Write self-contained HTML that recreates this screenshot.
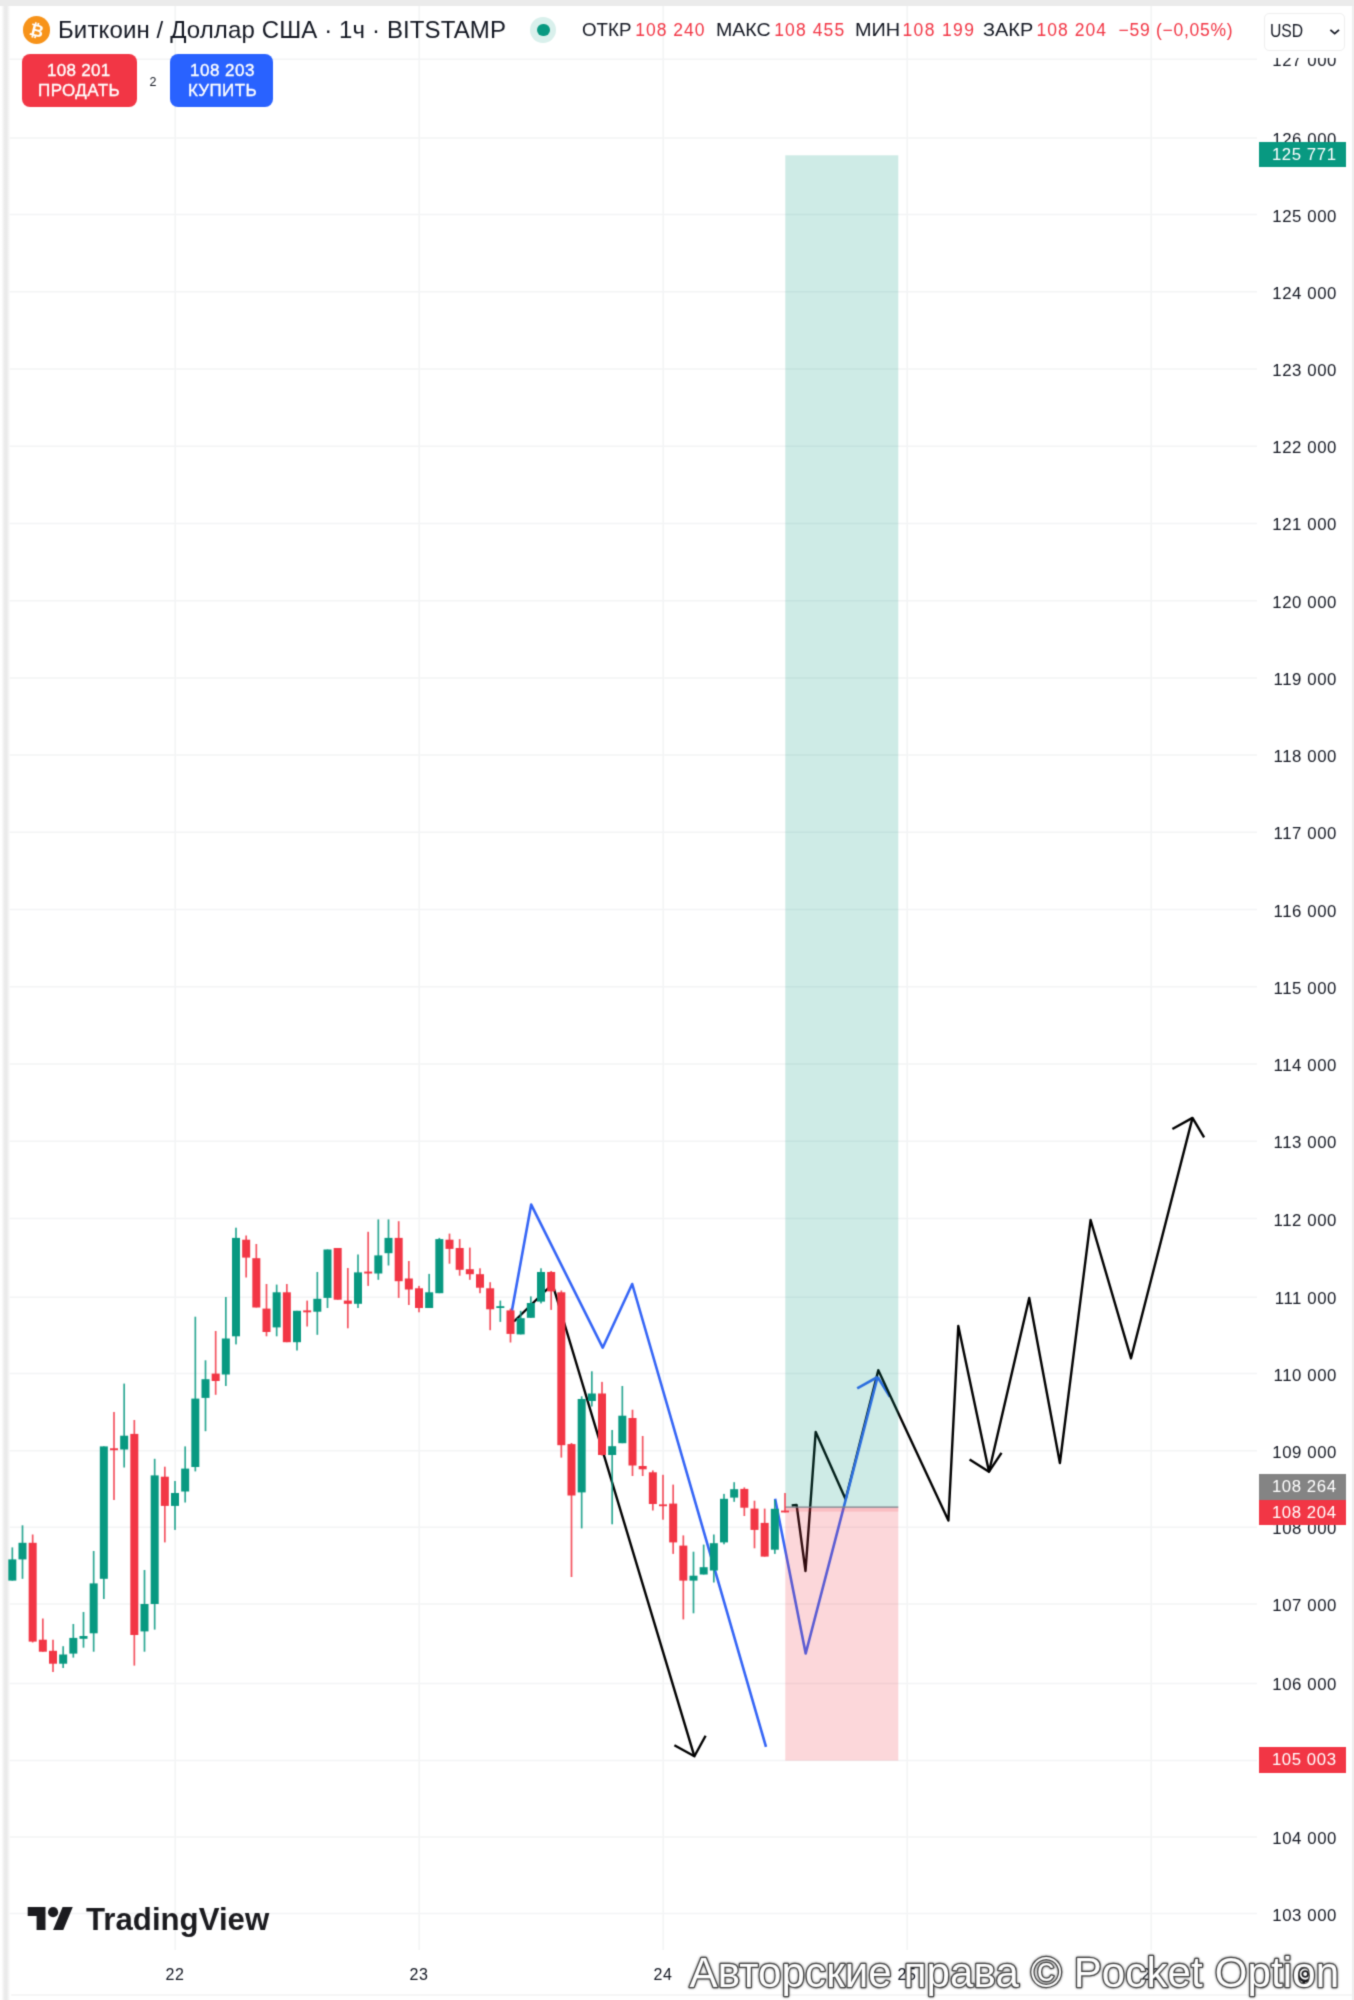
<!DOCTYPE html>
<html lang="ru">
<head>
<meta charset="utf-8">
<title>Биткоин / Доллар США — график</title>
<style>
html,body{margin:0;padding:0;background:#fff;}
body{width:1354px;height:2000px;position:relative;overflow:hidden;font-family:"Liberation Sans",sans-serif;color:#131722;}
.abs{position:absolute;}
.topband{left:-10px;top:-10px;width:1374px;height:16px;background:#ebebeb;}
.lstrip{left:0;top:5.5px;width:11px;height:2005px;background:linear-gradient(90deg,#fff 0,#fff 1.4px,#ebebeb 4.6px,#ebebeb 7px,#fff 10.2px,#fff 11px);}
.rstrip{left:1351.5px;top:5.5px;width:12.7px;height:2005px;background:#eeeeee;}
.panel{left:8px;top:5.5px;width:1343.3px;height:1989.5px;background:#fff;border-radius:5px 5px 0 0;}
.botline{left:8px;top:1993.6px;width:1346px;height:2px;background:#f6f6f6;}
.t{position:absolute;white-space:nowrap;line-height:1;}
.btn{position:absolute;top:54.3px;height:52.7px;border-radius:8px;}
.sell{left:21.5px;width:115.9px;background:#F23645;}
.buy{left:170.2px;width:102.8px;background:#2962FF;}
.usdbox{left:1263.6px;top:12.8px;width:79.6px;height:36.6px;border:1.6px solid #efefef;border-radius:5px;background:#fff;}
.coin{left:22.9px;top:16px;width:27.6px;height:27.6px;border-radius:50%;background:#F7931A;}
.halo{left:530.4px;top:17.1px;width:25.8px;height:25.8px;border-radius:50%;background:#d9f0ec;}
.dot{left:537px;top:23.7px;width:12.6px;height:12.6px;border-radius:50%;background:#089981;}
.plab{position:absolute;right:14px;white-space:nowrap;line-height:1;font-size:16.8px;letter-spacing:0.58px;color:#131722;}
.pbox{position:absolute;left:1259px;width:87px;height:25.8px;}
.pbox span{position:absolute;right:9.4px;top:5.1px;line-height:1;font-size:16.8px;letter-spacing:0.58px;color:#fff;white-space:nowrap;}
.tlab{position:absolute;top:1967.1px;width:40px;text-align:center;line-height:1;font-size:16px;letter-spacing:0.5px;color:#131722;}
svg{position:absolute;left:0;top:0;}
#root{position:absolute;left:0;top:0;width:1354px;height:2000px;overflow:hidden;background:#fff;filter:url(#soft);}

</style>
</head>
<body>
<svg width="0" height="0" style="position:absolute"><defs><filter id="soft" x="0" y="0" width="100%" height="100%" color-interpolation-filters="sRGB"><feConvolveMatrix order="3" kernelMatrix="0.0256 0.1088 0.0256 0.1088 0.4624 0.1088 0.0256 0.1088 0.0256" edgeMode="duplicate" preserveAlpha="true"/></filter></defs></svg>
<div id="root">
<div class="abs panel"></div><div class="abs botline"></div>
<div class="abs lstrip"></div><div class="abs rstrip"></div><div class="abs topband"></div>
<svg id="chart" width="1354" height="2000" viewBox="0 0 1354 2000">
<g stroke="#f3f4f5" stroke-width="1.5">
<line x1="9.5" x2="1257" y1="1913.6" y2="1913.6"/>
<line x1="9.5" x2="1257" y1="1837.1" y2="1837.1"/>
<line x1="9.5" x2="1257" y1="1760.4" y2="1760.4"/>
<line x1="9.5" x2="1257" y1="1683.4" y2="1683.4"/>
<line x1="9.5" x2="1257" y1="1604.0" y2="1604.0"/>
<line x1="9.5" x2="1257" y1="1527.2" y2="1527.2"/>
<line x1="9.5" x2="1257" y1="1450.8" y2="1450.8"/>
<line x1="9.5" x2="1257" y1="1373.6" y2="1373.6"/>
<line x1="9.5" x2="1257" y1="1297.2" y2="1297.2"/>
<line x1="9.5" x2="1257" y1="1218.5" y2="1218.5"/>
<line x1="9.5" x2="1257" y1="1141.3" y2="1141.3"/>
<line x1="9.5" x2="1257" y1="1064.0" y2="1064.0"/>
<line x1="9.5" x2="1257" y1="986.8" y2="986.8"/>
<line x1="9.5" x2="1257" y1="909.6" y2="909.6"/>
<line x1="9.5" x2="1257" y1="832.3" y2="832.3"/>
<line x1="9.5" x2="1257" y1="755.1" y2="755.1"/>
<line x1="9.5" x2="1257" y1="677.9" y2="677.9"/>
<line x1="9.5" x2="1257" y1="600.7" y2="600.7"/>
<line x1="9.5" x2="1257" y1="523.4" y2="523.4"/>
<line x1="9.5" x2="1257" y1="446.2" y2="446.2"/>
<line x1="9.5" x2="1257" y1="369.0" y2="369.0"/>
<line x1="9.5" x2="1257" y1="291.7" y2="291.7"/>
<line x1="9.5" x2="1257" y1="214.5" y2="214.5"/>
<line x1="9.5" x2="1257" y1="138.1" y2="138.1"/>
<line x1="9.5" x2="1257" y1="59.2" y2="59.2"/>
<line x1="175.2" x2="175.2" y1="6" y2="1950"/>
<line x1="419.2" x2="419.2" y1="6" y2="1950"/>
<line x1="663.2" x2="663.2" y1="6" y2="1950"/>
<line x1="907.2" x2="907.2" y1="6" y2="1950"/>
<line x1="1151.2" x2="1151.2" y1="6" y2="1950"/>
</g>
<g fill="none" stroke-linejoin="round" stroke-linecap="butt">
<path d="M514,1321.5 L552.5,1284 L694.4,1756.3" stroke="#000" stroke-width="2.4"/>
<path d="M674.4,1745.2 L694.4,1756.3 L705.6,1735.7" stroke="#000" stroke-width="2.4"/>
<path d="M877.6,1377 L889.9,1396.9" stroke="#3565F6" stroke-width="2.6"/>
<path d="M791.7,1505.5 L796.6,1505 L805.5,1571 L815.7,1432 L845.6,1499.2 L878.3,1370.2 L948.4,1520.6 L958.3,1325.9 L989,1471.7 L1029.2,1298 L1059.9,1463 L1090.6,1220 L1131,1358.3 L1192.5,1117.9" stroke="#000" stroke-width="2.4" stroke-miterlimit="10"/>
<path d="M969.6,1459.4 L989,1471.7 L1001.5,1452.8" stroke="#000" stroke-width="2.4"/>
<path d="M1172.4,1129 L1192.5,1117.9 L1204.1,1137.3" stroke="#000" stroke-width="2.4"/>
<path d="M511.9,1310.8 L531.2,1204.6 L602.7,1347.7 L632.2,1284 L766,1746.8" stroke="#3565F6" stroke-width="2.6" stroke-miterlimit="10"/>
<path d="M775.1,1498.8 L805.7,1653.5 L877.6,1377" stroke="#3565F6" stroke-width="2.6" stroke-miterlimit="10"/>
<path d="M857.2,1388.4 L877.6,1377" stroke="#3565F6" stroke-width="2.6"/>
</g>
<rect x="785.3" y="155.3" width="113" height="1352" fill="#089981" fill-opacity="0.2"/>
<rect x="785.3" y="1507.3" width="113" height="253.3" fill="#F23645" fill-opacity="0.2"/>
<rect x="785.3" y="1507.8" width="113" height="3.8" fill="#F23645" fill-opacity="0.16"/>
<line x1="785.3" x2="898.3" y1="1507.2" y2="1507.2" stroke="#7b7f88" stroke-width="1.3"/>
<g id="candles">
<rect x="11.48" y="1547.4" width="1.7" height="33.2" fill="#089981" fill-opacity="0.85"/>
<rect x="8.33" y="1559.4" width="8.0" height="21.2" fill="#089981"/>
<rect x="21.65" y="1525.3" width="1.7" height="53.5" fill="#089981" fill-opacity="0.85"/>
<rect x="18.50" y="1542.8" width="8.0" height="16.6" fill="#089981"/>
<rect x="31.82" y="1534.5" width="1.7" height="108.0" fill="#F23645" fill-opacity="0.85"/>
<rect x="28.67" y="1542.8" width="8.0" height="98.8" fill="#F23645"/>
<rect x="41.98" y="1618.5" width="1.7" height="33.2" fill="#F23645" fill-opacity="0.85"/>
<rect x="38.83" y="1639.7" width="8.0" height="12.0" fill="#F23645"/>
<rect x="52.15" y="1639.7" width="1.7" height="32.3" fill="#F23645" fill-opacity="0.85"/>
<rect x="49.00" y="1650.8" width="8.0" height="12.9" fill="#F23645"/>
<rect x="62.32" y="1646.2" width="1.7" height="21.8" fill="#089981" fill-opacity="0.85"/>
<rect x="59.17" y="1654.5" width="8.0" height="9.2" fill="#089981"/>
<rect x="72.48" y="1624.0" width="1.7" height="33.6" fill="#089981" fill-opacity="0.85"/>
<rect x="69.33" y="1637.9" width="8.0" height="15.7" fill="#089981"/>
<rect x="82.65" y="1612.0" width="1.7" height="35.7" fill="#089981" fill-opacity="0.85"/>
<rect x="79.50" y="1636.0" width="8.0" height="2.8" fill="#089981"/>
<rect x="92.82" y="1551.0" width="1.7" height="100.7" fill="#089981" fill-opacity="0.85"/>
<rect x="89.67" y="1583.4" width="8.0" height="49.9" fill="#089981"/>
<rect x="102.98" y="1446.4" width="1.7" height="152.6" fill="#089981" fill-opacity="0.85"/>
<rect x="99.83" y="1446.4" width="8.0" height="132.4" fill="#089981"/>
<rect x="113.15" y="1412.0" width="1.7" height="88.0" fill="#F23645" fill-opacity="0.85"/>
<rect x="110.00" y="1448.3" width="8.0" height="1.9" fill="#F23645"/>
<rect x="123.32" y="1383.6" width="1.7" height="83.9" fill="#089981" fill-opacity="0.85"/>
<rect x="120.17" y="1435.7" width="8.0" height="13.8" fill="#089981"/>
<rect x="133.48" y="1420.0" width="1.7" height="245.6" fill="#F23645" fill-opacity="0.85"/>
<rect x="130.33" y="1433.9" width="8.0" height="201.1" fill="#F23645"/>
<rect x="143.65" y="1570.0" width="1.7" height="81.7" fill="#089981" fill-opacity="0.85"/>
<rect x="140.50" y="1604.0" width="8.0" height="27.4" fill="#089981"/>
<rect x="153.82" y="1458.8" width="1.7" height="170.8" fill="#089981" fill-opacity="0.85"/>
<rect x="150.67" y="1475.4" width="8.0" height="128.6" fill="#089981"/>
<rect x="163.98" y="1466.7" width="1.7" height="75.7" fill="#F23645" fill-opacity="0.85"/>
<rect x="160.83" y="1476.7" width="8.0" height="29.2" fill="#F23645"/>
<rect x="174.15" y="1481.0" width="1.7" height="48.9" fill="#089981" fill-opacity="0.85"/>
<rect x="171.00" y="1493.0" width="8.0" height="12.9" fill="#089981"/>
<rect x="184.32" y="1446.4" width="1.7" height="56.1" fill="#089981" fill-opacity="0.85"/>
<rect x="181.17" y="1468.6" width="8.0" height="22.9" fill="#089981"/>
<rect x="194.48" y="1316.7" width="1.7" height="154.7" fill="#089981" fill-opacity="0.85"/>
<rect x="191.33" y="1398.6" width="8.0" height="68.4" fill="#089981"/>
<rect x="204.65" y="1360.3" width="1.7" height="70.9" fill="#089981" fill-opacity="0.85"/>
<rect x="201.50" y="1379.2" width="8.0" height="18.7" fill="#089981"/>
<rect x="214.82" y="1331.0" width="1.7" height="63.8" fill="#F23645" fill-opacity="0.85"/>
<rect x="211.67" y="1373.6" width="8.0" height="7.4" fill="#F23645"/>
<rect x="224.98" y="1297.0" width="1.7" height="89.0" fill="#089981" fill-opacity="0.85"/>
<rect x="221.83" y="1338.5" width="8.0" height="36.0" fill="#089981"/>
<rect x="235.15" y="1227.7" width="1.7" height="116.7" fill="#089981" fill-opacity="0.85"/>
<rect x="232.00" y="1237.9" width="8.0" height="98.4" fill="#089981"/>
<rect x="245.32" y="1235.5" width="1.7" height="42.0" fill="#F23645" fill-opacity="0.85"/>
<rect x="242.17" y="1239.7" width="8.0" height="17.9" fill="#F23645"/>
<rect x="255.48" y="1244.0" width="1.7" height="63.5" fill="#F23645" fill-opacity="0.85"/>
<rect x="252.33" y="1258.2" width="8.0" height="49.3" fill="#F23645"/>
<rect x="265.65" y="1284.0" width="1.7" height="52.3" fill="#F23645" fill-opacity="0.85"/>
<rect x="262.50" y="1308.6" width="8.0" height="23.4" fill="#F23645"/>
<rect x="275.82" y="1284.6" width="1.7" height="51.7" fill="#089981" fill-opacity="0.85"/>
<rect x="272.67" y="1292.3" width="8.0" height="35.1" fill="#089981"/>
<rect x="285.98" y="1284.0" width="1.7" height="58.2" fill="#F23645" fill-opacity="0.85"/>
<rect x="282.83" y="1292.3" width="8.0" height="49.9" fill="#F23645"/>
<rect x="296.15" y="1310.8" width="1.7" height="39.7" fill="#089981" fill-opacity="0.85"/>
<rect x="293.00" y="1310.8" width="8.0" height="31.4" fill="#089981"/>
<rect x="306.32" y="1300.6" width="1.7" height="25.9" fill="#F23645" fill-opacity="0.85"/>
<rect x="303.17" y="1310.4" width="8.0" height="1.9" fill="#F23645"/>
<rect x="316.48" y="1272.0" width="1.7" height="62.8" fill="#089981" fill-opacity="0.85"/>
<rect x="313.33" y="1298.8" width="8.0" height="12.9" fill="#089981"/>
<rect x="326.65" y="1249.5" width="1.7" height="58.5" fill="#089981" fill-opacity="0.85"/>
<rect x="323.50" y="1249.5" width="8.0" height="48.4" fill="#089981"/>
<rect x="336.82" y="1248.0" width="1.7" height="51.7" fill="#F23645" fill-opacity="0.85"/>
<rect x="333.67" y="1248.0" width="8.0" height="51.7" fill="#F23645"/>
<rect x="346.98" y="1268.0" width="1.7" height="60.3" fill="#F23645" fill-opacity="0.85"/>
<rect x="343.83" y="1300.6" width="8.0" height="3.2" fill="#F23645"/>
<rect x="357.15" y="1254.5" width="1.7" height="53.5" fill="#089981" fill-opacity="0.85"/>
<rect x="354.00" y="1272.4" width="8.0" height="31.4" fill="#089981"/>
<rect x="367.32" y="1231.8" width="1.7" height="54.1" fill="#F23645" fill-opacity="0.85"/>
<rect x="364.17" y="1271.6" width="8.0" height="1.9" fill="#F23645"/>
<rect x="377.48" y="1219.4" width="1.7" height="60.4" fill="#089981" fill-opacity="0.85"/>
<rect x="374.33" y="1255.4" width="8.0" height="18.1" fill="#089981"/>
<rect x="387.65" y="1219.4" width="1.7" height="46.1" fill="#089981" fill-opacity="0.85"/>
<rect x="384.50" y="1237.9" width="8.0" height="15.3" fill="#089981"/>
<rect x="397.82" y="1221.2" width="1.7" height="76.7" fill="#F23645" fill-opacity="0.85"/>
<rect x="394.67" y="1237.9" width="8.0" height="43.3" fill="#F23645"/>
<rect x="407.98" y="1261.0" width="1.7" height="44.0" fill="#F23645" fill-opacity="0.85"/>
<rect x="404.83" y="1278.5" width="8.0" height="11.0" fill="#F23645"/>
<rect x="418.15" y="1285.9" width="1.7" height="26.4" fill="#F23645" fill-opacity="0.85"/>
<rect x="415.00" y="1288.3" width="8.0" height="19.7" fill="#F23645"/>
<rect x="428.32" y="1273.9" width="1.7" height="34.1" fill="#089981" fill-opacity="0.85"/>
<rect x="425.17" y="1292.3" width="8.0" height="15.7" fill="#089981"/>
<rect x="438.48" y="1237.9" width="1.7" height="55.3" fill="#089981" fill-opacity="0.85"/>
<rect x="435.33" y="1239.1" width="8.0" height="54.1" fill="#089981"/>
<rect x="448.65" y="1233.6" width="1.7" height="30.1" fill="#F23645" fill-opacity="0.85"/>
<rect x="445.50" y="1239.7" width="8.0" height="9.2" fill="#F23645"/>
<rect x="458.82" y="1239.1" width="1.7" height="36.6" fill="#F23645" fill-opacity="0.85"/>
<rect x="455.67" y="1248.0" width="8.0" height="21.8" fill="#F23645"/>
<rect x="468.98" y="1247.6" width="1.7" height="32.2" fill="#F23645" fill-opacity="0.85"/>
<rect x="465.83" y="1269.2" width="8.0" height="5.0" fill="#F23645"/>
<rect x="479.15" y="1268.3" width="1.7" height="24.9" fill="#F23645" fill-opacity="0.85"/>
<rect x="476.00" y="1274.2" width="8.0" height="13.5" fill="#F23645"/>
<rect x="489.32" y="1282.2" width="1.7" height="48.0" fill="#F23645" fill-opacity="0.85"/>
<rect x="486.17" y="1288.3" width="8.0" height="21.0" fill="#F23645"/>
<rect x="499.48" y="1300.6" width="1.7" height="21.3" fill="#089981" fill-opacity="0.85"/>
<rect x="496.33" y="1306.2" width="8.0" height="1.8" fill="#089981"/>
<rect x="509.65" y="1308.6" width="1.7" height="33.9" fill="#F23645" fill-opacity="0.85"/>
<rect x="506.50" y="1310.4" width="8.0" height="23.5" fill="#F23645"/>
<rect x="519.82" y="1310.8" width="1.7" height="23.6" fill="#089981" fill-opacity="0.85"/>
<rect x="516.67" y="1318.2" width="8.0" height="16.2" fill="#089981"/>
<rect x="529.98" y="1296.4" width="1.7" height="21.4" fill="#089981" fill-opacity="0.85"/>
<rect x="526.83" y="1303.0" width="8.0" height="14.8" fill="#089981"/>
<rect x="540.15" y="1268.3" width="1.7" height="35.1" fill="#089981" fill-opacity="0.85"/>
<rect x="537.00" y="1272.0" width="8.0" height="29.6" fill="#089981"/>
<rect x="550.32" y="1271.0" width="1.7" height="38.9" fill="#F23645" fill-opacity="0.85"/>
<rect x="547.17" y="1272.0" width="8.0" height="19.4" fill="#F23645"/>
<rect x="560.48" y="1290.5" width="1.7" height="167.1" fill="#F23645" fill-opacity="0.85"/>
<rect x="557.33" y="1292.3" width="8.0" height="152.9" fill="#F23645"/>
<rect x="570.65" y="1443.0" width="1.7" height="134.0" fill="#F23645" fill-opacity="0.85"/>
<rect x="567.50" y="1444.1" width="8.0" height="51.4" fill="#F23645"/>
<rect x="580.82" y="1396.3" width="1.7" height="132.1" fill="#089981" fill-opacity="0.85"/>
<rect x="577.67" y="1399.0" width="8.0" height="93.4" fill="#089981"/>
<rect x="590.98" y="1371.3" width="1.7" height="35.2" fill="#089981" fill-opacity="0.85"/>
<rect x="587.83" y="1393.5" width="8.0" height="7.5" fill="#089981"/>
<rect x="601.15" y="1381.9" width="1.7" height="73.6" fill="#F23645" fill-opacity="0.85"/>
<rect x="598.00" y="1393.5" width="8.0" height="61.5" fill="#F23645"/>
<rect x="611.32" y="1430.0" width="1.7" height="94.3" fill="#089981" fill-opacity="0.85"/>
<rect x="608.17" y="1446.2" width="8.0" height="8.8" fill="#089981"/>
<rect x="621.48" y="1386.0" width="1.7" height="57.2" fill="#089981" fill-opacity="0.85"/>
<rect x="618.33" y="1415.7" width="8.0" height="27.5" fill="#089981"/>
<rect x="631.65" y="1409.7" width="1.7" height="66.3" fill="#F23645" fill-opacity="0.85"/>
<rect x="628.50" y="1418.0" width="8.0" height="47.5" fill="#F23645"/>
<rect x="641.82" y="1436.0" width="1.7" height="40.0" fill="#F23645" fill-opacity="0.85"/>
<rect x="638.67" y="1466.0" width="8.0" height="3.3" fill="#F23645"/>
<rect x="651.98" y="1470.4" width="1.7" height="40.1" fill="#F23645" fill-opacity="0.85"/>
<rect x="648.83" y="1472.3" width="8.0" height="31.7" fill="#F23645"/>
<rect x="662.15" y="1474.8" width="1.7" height="44.9" fill="#F23645" fill-opacity="0.85"/>
<rect x="659.00" y="1504.4" width="8.0" height="1.8" fill="#F23645"/>
<rect x="672.32" y="1484.6" width="1.7" height="69.3" fill="#F23645" fill-opacity="0.85"/>
<rect x="669.17" y="1503.6" width="8.0" height="38.8" fill="#F23645"/>
<rect x="682.48" y="1535.4" width="1.7" height="84.0" fill="#F23645" fill-opacity="0.85"/>
<rect x="679.33" y="1545.6" width="8.0" height="35.0" fill="#F23645"/>
<rect x="692.65" y="1551.7" width="1.7" height="61.6" fill="#089981" fill-opacity="0.85"/>
<rect x="689.50" y="1575.7" width="8.0" height="4.9" fill="#089981"/>
<rect x="702.82" y="1544.6" width="1.7" height="29.9" fill="#089981" fill-opacity="0.85"/>
<rect x="699.67" y="1567.2" width="8.0" height="7.3" fill="#089981"/>
<rect x="712.98" y="1534.5" width="1.7" height="48.0" fill="#089981" fill-opacity="0.85"/>
<rect x="709.83" y="1543.2" width="8.0" height="27.3" fill="#089981"/>
<rect x="723.15" y="1493.9" width="1.7" height="50.4" fill="#089981" fill-opacity="0.85"/>
<rect x="720.00" y="1498.8" width="8.0" height="43.6" fill="#089981"/>
<rect x="733.32" y="1482.2" width="1.7" height="19.6" fill="#089981" fill-opacity="0.85"/>
<rect x="730.17" y="1489.2" width="8.0" height="8.4" fill="#089981"/>
<rect x="743.48" y="1487.4" width="1.7" height="28.6" fill="#F23645" fill-opacity="0.85"/>
<rect x="740.33" y="1488.9" width="8.0" height="18.8" fill="#F23645"/>
<rect x="753.65" y="1500.7" width="1.7" height="47.6" fill="#F23645" fill-opacity="0.85"/>
<rect x="750.50" y="1508.6" width="8.0" height="21.3" fill="#F23645"/>
<rect x="763.82" y="1508.6" width="1.7" height="48.0" fill="#F23645" fill-opacity="0.85"/>
<rect x="760.67" y="1522.9" width="8.0" height="33.7" fill="#F23645"/>
<rect x="773.98" y="1500.0" width="1.7" height="53.9" fill="#089981" fill-opacity="0.85"/>
<rect x="770.83" y="1508.8" width="8.0" height="40.9" fill="#089981"/>
<rect x="784.15" y="1493.0" width="1.7" height="19.4" fill="#F23645" fill-opacity="0.85"/>
<rect x="781.00" y="1510.6" width="8.0" height="1.8" fill="#F23645"/>
</g>
<g transform="translate(27.7,1902) scale(1.27)" fill="#1b1b1f"><path d="M14 22H7V11H0V4h14v18zM28 22h-8l7.5-18h8L28 22z"/><circle cx="20" cy="8" r="4"/></g>
<g transform="translate(1305.2,1974)" fill="none" stroke="#1b1b1f"><circle r="2.9" stroke-width="1.8"/><circle r="7" stroke-width="2.6"/><circle r="8.6" stroke-dasharray="2.7 4.05" stroke-width="2.2"/></g>
</svg>
<div class="abs" style="left:1257px;top:58px;width:94px;height:1900px;overflow:hidden;">
<div class="plab" style="top:1849.6px">103 000</div>
<div class="plab" style="top:1773.1px">104 000</div>
<div class="plab" style="top:1696.4px">105 000</div>
<div class="plab" style="top:1619.4px">106 000</div>
<div class="plab" style="top:1540.0px">107 000</div>
<div class="plab" style="top:1463.2px">108 000</div>
<div class="plab" style="top:1386.8px">109 000</div>
<div class="plab" style="top:1309.6px">110 000</div>
<div class="plab" style="top:1233.2px">111 000</div>
<div class="plab" style="top:1154.5px">112 000</div>
<div class="plab" style="top:1077.3px">113 000</div>
<div class="plab" style="top:1000.0px">114 000</div>
<div class="plab" style="top:922.8px">115 000</div>
<div class="plab" style="top:845.6px">116 000</div>
<div class="plab" style="top:768.3px">117 000</div>
<div class="plab" style="top:691.1px">118 000</div>
<div class="plab" style="top:613.9px">119 000</div>
<div class="plab" style="top:536.7px">120 000</div>
<div class="plab" style="top:459.4px">121 000</div>
<div class="plab" style="top:382.2px">122 000</div>
<div class="plab" style="top:305.0px">123 000</div>
<div class="plab" style="top:227.7px">124 000</div>
<div class="plab" style="top:150.5px">125 000</div>
<div class="plab" style="top:74.1px">126 000</div>
<div class="plab" style="top:-4.8px">127 000</div>
</div>
<div class="pbox" style="top:141.6px;background:#089981"><span>125 771</span></div>
<div class="pbox" style="top:1474.4px;background:#848484"><span>108 264</span></div>
<div class="pbox" style="top:1499.6px;background:#F23645"><span>108 204</span></div>
<div class="pbox" style="top:1747.3px;background:#F23645"><span>105 003</span></div>
<div class="tlab" style="left:155.0px">22</div>
<div class="tlab" style="left:399.0px">23</div>
<div class="tlab" style="left:643.0px">24</div>
<div class="tlab" style="left:887.0px">25</div>
<div class="tlab" style="left:1131.0px">26</div>
<div class="abs coin"></div>
<svg width="1354" height="60" viewBox="0 0 1354 60"><text x="36.9" y="36.3" font-family="Liberation Sans, DejaVu Sans, sans-serif" font-size="17" font-weight="700" fill="#fff" text-anchor="middle" transform="rotate(14 36.7 29.8)">₿</text></svg>
<div class="abs halo"></div><div class="abs dot"></div>
<div class="btn sell"></div><div class="btn buy"></div>
<div class="abs usdbox"></div>
<svg width="1354" height="60" viewBox="0 0 1354 60"><path d="M1330.4,29.8 L1334.7,33.6 L1339,29.8" fill="none" stroke="#131722" stroke-width="1.8"/></svg>
<div class="t" id="title" style="left:58.0px;top:17.8px;font-size:24px;color:#131722;font-weight:400;letter-spacing:0.122px;">Биткоин / Доллар США · 1ч · BITSTAMP</div>
<div class="t" id="o1" style="left:582.1px;top:21.7px;font-size:17.5px;color:#131722;font-weight:400;transform:scaleX(1.0699);transform-origin:0 0;">ОТКР</div>
<div class="t" id="o2" style="left:635.3px;top:21.7px;font-size:17.5px;color:#F23645;font-weight:400;letter-spacing:0.972px;">108 240</div>
<div class="t" id="h1" style="left:715.7px;top:21.7px;font-size:17.5px;color:#131722;font-weight:400;transform:scaleX(1.1168);transform-origin:0 0;">МАКС</div>
<div class="t" id="h2" style="left:774.2px;top:21.7px;font-size:17.5px;color:#F23645;font-weight:400;letter-spacing:1.122px;">108 455</div>
<div class="t" id="l1" style="left:854.8px;top:21.7px;font-size:17.5px;color:#131722;font-weight:400;transform:scaleX(1.1358);transform-origin:0 0;">МИН</div>
<div class="t" id="l2" style="left:902.5px;top:21.7px;font-size:17.5px;color:#F23645;font-weight:400;letter-spacing:1.356px;">108 199</div>
<div class="t" id="c1" style="left:982.9px;top:21.7px;font-size:17.5px;color:#131722;font-weight:400;transform:scaleX(1.1381);transform-origin:0 0;">ЗАКР</div>
<div class="t" id="c2" style="left:1036.6px;top:21.7px;font-size:17.5px;color:#F23645;font-weight:400;letter-spacing:1.006px;">108 204</div>
<div class="t" id="chg" style="left:1118.5px;top:21.7px;font-size:17.5px;color:#F23645;font-weight:400;letter-spacing:0.723px;">−59 (−0,05%)</div>
<div class="t" id="usd" style="left:1270.0px;top:22.0px;font-size:18.5px;color:#131722;font-weight:400;transform:scaleX(0.8499);transform-origin:0 0;">USD</div>
<div class="t" id="s1" style="left:47.0px;top:62.0px;font-size:17px;color:#fff;font-weight:400;letter-spacing:0.308px;-webkit-text-stroke:0.35px #fff;">108 201</div>
<div class="t" id="s2" style="left:38.1px;top:82.0px;font-size:17px;color:#fff;font-weight:400;letter-spacing:0.415px;-webkit-text-stroke:0.35px #fff;">ПРОДАТЬ</div>
<div class="t" id="sp" style="left:149.6px;top:76.3px;font-size:12.5px;color:#131722;font-weight:400;letter-spacing:0.000px;">2</div>
<div class="t" id="b1" style="left:190.1px;top:62.0px;font-size:17px;color:#fff;font-weight:400;letter-spacing:0.474px;-webkit-text-stroke:0.35px #fff;">108 203</div>
<div class="t" id="b2" style="left:187.9px;top:82.0px;font-size:17px;color:#fff;font-weight:400;letter-spacing:0.365px;-webkit-text-stroke:0.35px #fff;">КУПИТЬ</div>
<div class="t" id="tv" style="left:86.0px;top:1903.8px;font-size:31.5px;color:#1b1b1f;font-weight:700;transform:scaleX(0.9904);transform-origin:0 0;">TradingView</div>
<svg width="1354" height="2000" viewBox="0 0 1354 2000"><text id="wm" x="689.5" y="1987.3" font-family="Liberation Sans, sans-serif" font-size="42" letter-spacing="0.139" fill="#fff" stroke="#444" stroke-width="2.5" paint-order="stroke" stroke-linejoin="round" style="filter:drop-shadow(0.5px 0.8px 1.2px rgba(0,0,0,.55))">Авторские права © Pocket Option</text></svg>
</div>
</body>
</html>
